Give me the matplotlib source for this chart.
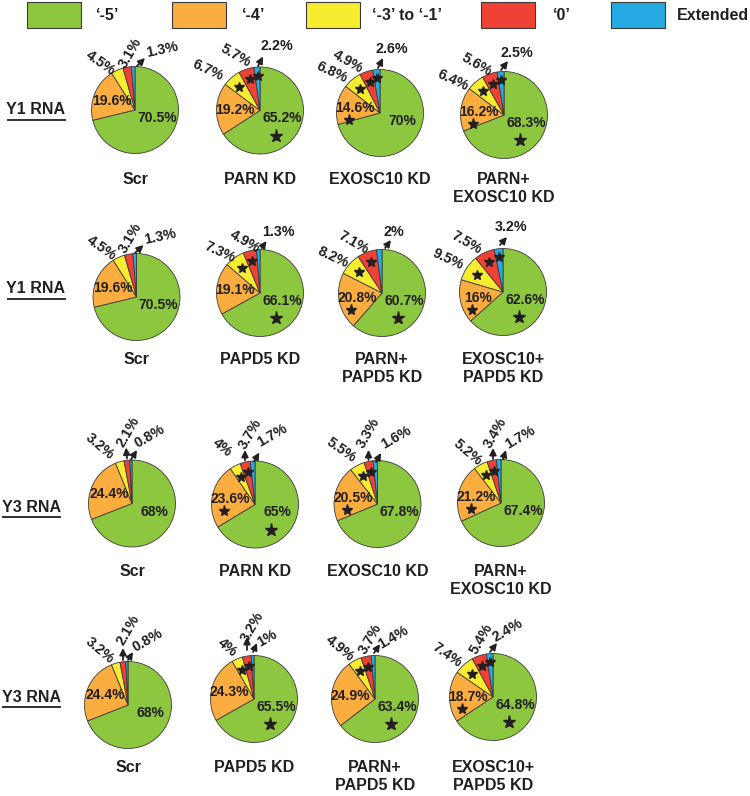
import matplotlib
matplotlib.use('Agg')
import matplotlib.pyplot as plt
from matplotlib.patches import Rectangle
import numpy as np

plt.rcParams['font.family'] = ['Liberation Sans', 'DejaVu Sans']

# ---------------- data ----------------
categories = ['\u2018-5\u2019', '\u2018-4\u2019', '\u2018-3\u2019 to \u2018-1\u2019', '\u20180\u2019', 'Extended']
colors = ['#8dc63f', '#fbad3f', '#f8ec31', '#ef4136', '#27aae1']

row_labels = ['Y1 RNA', 'Y1 RNA', 'Y3 RNA', 'Y3 RNA']
row_titles = [
    [['Scr'], ['PARN KD'], ['EXOSC10 KD'], ['PARN+', 'EXOSC10 KD']],
    [['Scr'], ['PAPD5 KD'], ['PARN+', 'PAPD5 KD'], ['EXOSC10+', 'PAPD5 KD']],
    [['Scr'], ['PARN KD'], ['EXOSC10 KD'], ['PARN+', 'EXOSC10 KD']],
    [['Scr'], ['PAPD5 KD'], ['PARN+', 'PAPD5 KD'], ['EXOSC10+', 'PAPD5 KD']],
]

y1_scr = [70.5, 19.6, 4.5, 3.1, 1.3]
y1_parn = [65.2, 19.2, 6.7, 5.7, 2.2]
y1_exosc10 = [70, 14.6, 6.8, 4.9, 2.6]
y1_parn_exosc10 = [68.3, 16.2, 6.4, 5.6, 2.5]
y1_papd5 = [66.1, 19.1, 7.3, 4.9, 1.3]
y1_parn_papd5 = [60.7, 20.8, 8.2, 7.1, 2]
y1_exosc10_papd5 = [62.6, 16, 9.5, 7.5, 3.2]
y3_scr = [68, 24.4, 3.2, 2.1, 0.8]
y3_parn = [65, 23.6, 4, 3.7, 1.7]
y3_exosc10 = [67.8, 20.5, 5.5, 3.3, 1.6]
y3_parn_exosc10 = [67.4, 21.2, 5.2, 3.4, 1.7]
y3_papd5 = [65.5, 24.3, 4, 3.2, 1]
y3_parn_papd5 = [63.4, 24.9, 4.9, 3.7, 1.4]
y3_exosc10_papd5 = [64.8, 18.7, 7.4, 5.4, 2.4]

# significance marks (1 = starred slice)
y1_scr_sig = [0, 0, 0, 0, 0]
y1_parn_sig = [1, 0, 1, 1, 1]
y1_exosc10_sig = [0, 1, 1, 1, 1]
y1_parn_exosc10_sig = [1, 1, 1, 1, 1]
y1_papd5_sig = [1, 0, 1, 1, 0]
y1_parn_papd5_sig = [1, 1, 1, 1, 0]
y1_exosc10_papd5_sig = [1, 1, 1, 1, 1]
y3_scr_sig = [0, 0, 0, 0, 0]
y3_parn_sig = [1, 1, 1, 1, 0]
y3_exosc10_sig = [0, 1, 1, 1, 0]
y3_parn_exosc10_sig = [0, 1, 1, 1, 0]
y3_papd5_sig = [1, 0, 1, 1, 0]
y3_parn_papd5_sig = [1, 0, 1, 1, 0]
y3_exosc10_papd5_sig = [1, 1, 1, 1, 1]

row_values = [
    [y1_scr, y1_parn, y1_exosc10, y1_parn_exosc10],
    [y1_scr, y1_papd5, y1_parn_papd5, y1_exosc10_papd5],
    [y3_scr, y3_parn, y3_exosc10, y3_parn_exosc10],
    [y3_scr, y3_papd5, y3_parn_papd5, y3_exosc10_papd5],
]
row_sig = [
    [y1_scr_sig, y1_parn_sig, y1_exosc10_sig, y1_parn_exosc10_sig],
    [y1_scr_sig, y1_papd5_sig, y1_parn_papd5_sig, y1_exosc10_papd5_sig],
    [y3_scr_sig, y3_parn_sig, y3_exosc10_sig, y3_parn_exosc10_sig],
    [y3_scr_sig, y3_papd5_sig, y3_parn_papd5_sig, y3_exosc10_papd5_sig],
]

# ---------------- layout (pixels) ----------------
W, H = 750, 796
R = 43.5
centers = [
    [(135, 110), (260, 110.5), (380, 113), (504, 115)],
    [(136.5, 297), (260, 293), (382, 293), (503, 292)],
    [(132, 503.5), (255, 504.5), (377.5, 504), (501, 503)],
    [(128, 705), (254, 699), (375, 699), (493, 697)],
]
title_y = [179, 360, 572, 768]
row_label_pos = [(36, 110), (36, 288.5), (31.5, 507), (31, 697)]

# outer labels for slices 2,3,4: (dx, dy, rotation, arrow(tail dx,dy, head dx,dy) or None)
outer = [
    [
        [(-35, -47, -35, None), (-5, -57, 60, None), (27, -60, 12, (2, -44, 10, -52))],
        [(-52, -40, -25, None), (-24, -55, -30, None), (17, -64, 0, (-2, -44.5, 3, -54))],
        [(-48, -41, -25, None), (-32, -51, -30, None), (12, -64, 0, (-2, -45, 3, -55))],
        [(-51, -35, -25, None), (-27, -50, -30, None), (13, -62, 0, (-3, -45, 4, -54))],
    ],
    [
        [(-35, -49, -35, None), (-6.5, -59, 60, None), (23.5, -60, 12, (-1.5, -44, 7, -52))],
        [(-40, -41, -25, None), (-15, -51, -30, None), (18, -61, 0, (1.5, -45, 6.5, -52))],
        [(-49, -36, -25, None), (-29, -50, -30, None), (12, -61, 0, (3, -45, 9, -53))],
        [(-55, -33, -25, None), (-36, -49, -30, None), (8, -65, 0, (-3, -47, 4, -55))],
    ],
    [
        [(-32, -57, -40, None), (-4, -72, 60, (-5, -45, -6, -56)), (18, -67, 30, (-1, -44, 5, -53.5))],
        [(-33, -57, -40, None), (-5, -71, 60, (-10, -44, -10, -54.5)), (17, -69.5, 30, (-1, -43, 4.3, -52))],
        [(-36, -54, -35, None), (-9, -71, 60, (-9, -44, -9, -54)), (18.5, -67, 30, (-1.5, -42, 3.5, -51))],
        [(-33, -51, -40, None), (-6, -70, 60, (-8, -44, -8, -55)), (19, -66, 30, (2, -44, 5, -53))],
    ],
    [
        [(-28, -55, -40, None), (0, -75, 60, (-5, -45, -5, -57)), (20, -65, 30, (0, -45, 5, -53))],
        [(-27, -51, -40, None), (-2, -72, 60, (-7, -49, -7, -62)), (13, -61, 30, (-1, -47, 3, -56))],
        [(-35, -51, -40, None), (-5, -60, 60, None), (18, -62, 30, (-1, -46, 5, -55))],
        [(-46, -42, -35, None), (-12, -58, 60, None), (15, -67, 30, (-3, -45, 4, -54))],
    ],
]

TXT = '#231f20'
EDGE = '#3a3a3a'

fig = plt.figure(figsize=(W / 100, H / 100), dpi=100)
ax = fig.add_axes([0, 0, 1, 1])


def fmt(v):
    return f'{v:g}%'


def polar(c, theta, frac):
    t = np.deg2rad(theta)
    return c[0] + frac * R * np.cos(t), c[1] + frac * R * np.sin(t)


for ri in range(4):
    for ci in range(4):
        vals = row_values[ri][ci]
        sig = row_sig[ri][ci]
        c = centers[ri][ci]
        wedges, _ = ax.pie(vals, colors=colors, center=c, radius=R,
                           startangle=-90, counterclock=True,
                           wedgeprops=dict(edgecolor=EDGE, linewidth=0.6))
        mids = [(w.theta1 + w.theta2) / 2 for w in wedges]
        # green label & star
        ax.text(c[0] + 22, c[1] + 8, fmt(vals[0]), ha='center', va='center',
                fontsize=10, fontweight='bold', color=TXT)
        if sig[0]:
            ax.plot(c[0] + 16, c[1] + 25, marker='*', ms=9.5, color=TXT, mec=TXT)
        # orange label & star
        ox, oy = polar(c, mids[1], 0.58)
        ax.text(ox, oy, fmt(vals[1]), ha='center', va='center',
                fontsize=10, fontweight='bold', color=TXT)
        if sig[1]:
            ax.plot(ox - 6, oy + 12, marker='*', ms=8, color=TXT, mec=TXT)
        # small slices
        fr = [None, None, 0.72, 0.76, 0.8]
        for k in (2, 3, 4):
            if sig[k]:
                sx, sy = polar(c, mids[k], fr[k])
                ax.plot(sx, sy, marker='*', ms=7, color=TXT, mec=TXT)
            dx, dy, rot, arr = outer[ri][ci][k - 2]
            ax.text(c[0] + dx, c[1] + dy, fmt(vals[k]), ha='center', va='center',
                    rotation=rot, fontsize=10.3, fontweight='bold', color=TXT)
            if arr is not None:
                ax.annotate('', xy=(c[0] + arr[2], c[1] + arr[3]),
                            xytext=(c[0] + arr[0], c[1] + arr[1]),
                            arrowprops=dict(arrowstyle='-|>', color=TXT, lw=1.3,
                                            mutation_scale=10, shrinkA=0, shrinkB=0))
        # titles
        for li, line in enumerate(row_titles[ri][ci]):
            ax.text(c[0], title_y[ri] + li * 18, line, ha='center', va='center',
                    fontsize=11.5, fontweight='bold', color=TXT)

# row labels
row_texts = []
for ri, lab in enumerate(row_labels):
    x, y = row_label_pos[ri]
    t = ax.text(x, y, lab, ha='center', va='center', fontsize=11.5,
                fontweight='bold', color=TXT)
    row_texts.append(t)

# legend
legend_box_x = [27, 172, 306, 481, 611]
legend_text_x = [96, 242, 372, 553, 677]
for i in range(5):
    ax.add_patch(Rectangle((legend_box_x[i], 1.5), 54, 26, facecolor=colors[i],
                           edgecolor=EDGE, linewidth=0.8))
    ax.text(legend_text_x[i], 15, categories[i], ha='left', va='center',
            fontsize=11.5, fontweight='bold', color=TXT)

ax.set_xlim(0, W)
ax.set_ylim(H, 0)
ax.set_aspect('equal')
ax.axis('off')

# underline row labels
fig.canvas.draw()
renderer = fig.canvas.get_renderer()
inv = ax.transData.inverted()
for t in row_texts:
    bb = t.get_window_extent(renderer)
    (x0, y0), (x1, y1) = inv.transform([(bb.x0, bb.y0), (bb.x1, bb.y1)])
    yb = max(y0, y1) + 2.5
    ax.plot([x0, x1], [yb, yb], color=TXT, lw=1.3, solid_capstyle='butt')

fig.savefig('out.png', dpi=100)
